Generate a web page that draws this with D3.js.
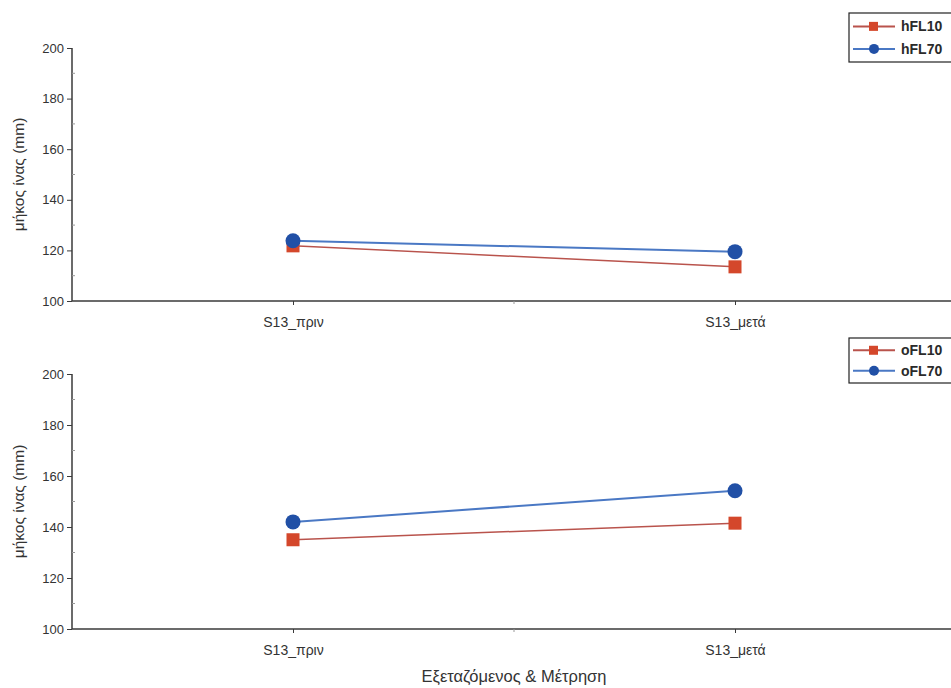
<!DOCTYPE html>
<html><head><meta charset="utf-8">
<script src="https://cdn.jsdelivr.net/npm/d3@7"></script>
<style>body{margin:0;background:#fff;} svg{display:block;}</style>
</head><body>
<svg id="chart" width="951" height="688"></svg>
<script>
const categories = ["S13_πριν", "S13_μετά"];
const yTicks = [100, 120, 140, 160, 180, 200];
const topSeriesNames = ["hFL10", "hFL70"];
const hFL10 = [121.8, 113.5];
const hFL70 = [123.8, 119.5];
const bottomSeriesNames = ["oFL10", "oFL70"];
const oFL10 = [135.0, 141.5];
const oFL70 = [142.0, 154.2];
const yLabel = "μήκος ίνας (mm)";
const xLabel = "Εξεταζόμενος & Μέτρηση";

const svg = d3.select("#chart");
const font = "'Liberation Sans', Arial, sans-serif";
const redLine = "#b9534c", redMark = "#d4472b";
const blueLine = "#4a78c4", blueMark = "#2150a6";
const axisCol = "#3a3a3a";

function panel(top, bottom, names, s1, s2, legendY, legendH) {
  const x = d3.scaleLinear().domain([0.5, 2.5]).range([72, 956]);
  const y = d3.scaleLinear().domain([100, 200]).range([bottom, top]);
  const g = svg.append("g");
  // y axis
  const ya = d3.axisLeft(y).tickValues(yTicks).tickSize(5).tickPadding(3);
  const yg = g.append("g").attr("transform", `translate(72,0)`).call(ya);
  yg.select(".domain").attr("stroke", axisCol).attr("stroke-width", 1.5).attr("d", `M0,${top}V${bottom}`);
  yg.selectAll(".tick line").attr("stroke", axisCol);
  yg.selectAll(".tick text").attr("font-family", font).attr("font-size", 13).attr("fill", "#333");
  // minor y ticks
  g.selectAll(".ym").data(d3.range(110, 200, 20)).enter().append("line")
    .attr("x1", 72).attr("x2", 75).attr("y1", d => y(d)).attr("y2", d => y(d))
    .attr("stroke", "#999").attr("stroke-width", 1);
  // x axis
  const xa = d3.axisBottom(x).tickValues([1, 2]).tickFormat((d) => categories[d - 1]).tickSize(4).tickPadding(12);
  const xg = g.append("g").attr("transform", `translate(0,${bottom})`).call(xa);
  xg.select(".domain").attr("stroke", axisCol).attr("stroke-width", 1.5).attr("d", `M72,0H956`);
  xg.selectAll(".tick line").attr("stroke", axisCol);
  xg.selectAll(".tick text").attr("font-family", font).attr("font-size", 14).attr("fill", "#333");
  g.append("line").attr("x1", x(1.5)).attr("x2", x(1.5)).attr("y1", bottom).attr("y2", bottom + 3)
    .attr("stroke", "#999");
  // y label
  g.append("text").attr("transform", `translate(24,${(top + bottom) / 2}) rotate(-90)`)
    .attr("text-anchor", "middle").attr("font-family", font).attr("font-size", 15.5).attr("fill", "#333")
    .text(yLabel);
  // lines
  const line = d3.line().x((d, i) => x(i + 1)).y(d => y(d));
  g.append("path").datum(s1).attr("d", line).attr("fill", "none").attr("stroke", redLine).attr("stroke-width", 1.5);
  g.append("path").datum(s2).attr("d", line).attr("fill", "none").attr("stroke", blueLine).attr("stroke-width", 2);
  g.selectAll(".sq").data(s1).enter().append("rect")
    .attr("x", (d, i) => x(i + 1) - 6.5).attr("y", d => y(d) - 6.5).attr("width", 13).attr("height", 13)
    .attr("fill", redMark);
  g.selectAll(".ci").data(s2).enter().append("circle")
    .attr("cx", (d, i) => x(i + 1)).attr("cy", d => y(d)).attr("r", 7.5).attr("fill", blueMark);
  // legend
  const lg = g.append("g").attr("transform", `translate(849,${legendY})`);
  lg.append("rect").attr("x", 0).attr("y", 0).attr("width", 110).attr("height", legendH)
    .attr("fill", "#fff").attr("stroke", "#222").attr("stroke-width", 1.2);
  const step = (legendH - 4) / 2;
  [[redLine, "sq"], [blueLine, "ci"]].forEach(([c, m], i) => {
    const yy = step * 0.55 + 1 + i * step;
    lg.append("line").attr("x1", 4).attr("x2", 46).attr("y1", yy).attr("y2", yy)
      .attr("stroke", c).attr("stroke-width", 2);
    if (m === "sq") lg.append("rect").attr("x", 20).attr("y", yy - 4.5).attr("width", 9).attr("height", 9).attr("fill", redMark);
    else lg.append("circle").attr("cx", 25).attr("cy", yy).attr("r", 5).attr("fill", blueMark);
    lg.append("text").attr("x", 52).attr("y", yy + 5).attr("font-family", font).attr("font-size", 14)
      .attr("font-weight", "bold").attr("fill", "#2a2a2a").text(names[i]);
  });
}

panel(48, 301, topSeriesNames, hFL10, hFL70, 13, 49);
panel(374, 629, bottomSeriesNames, oFL10, oFL70, 338, 45);

svg.append("text").attr("x", 514).attr("y", 682).attr("text-anchor", "middle")
  .attr("font-family", font).attr("font-size", 16.5).attr("fill", "#333").text(xLabel);
</script>
</body></html>
